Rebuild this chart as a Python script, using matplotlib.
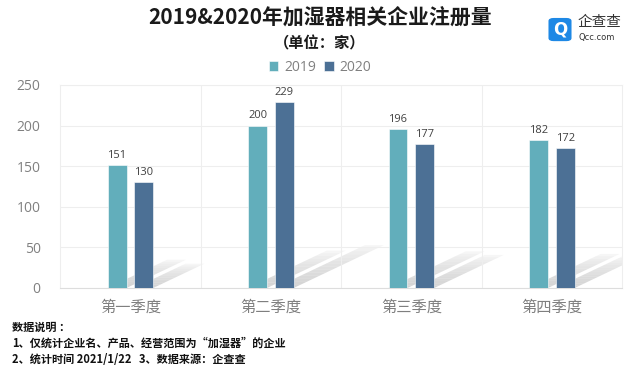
import matplotlib.pyplot as plt
import numpy as np
from matplotlib.patches import Polygon, FancyBboxPatch

plt.rcParams['font.family'] = ['Noto Sans CJK SC', 'DejaVu Sans']

quarters = ['第一季度', '第二季度', '第三季度', '第四季度']
years = ['2019', '2020']
v2019 = [151, 200, 196, 182]
v2020 = [130, 229, 177, 172]
colors = ['#62aebb', '#4c7095']

fig = plt.figure(figsize=(6.4, 3.74), dpi=100)
ax = fig.add_axes([0.094, 0.23, 0.878, 0.543])

x = np.arange(len(quarters))
w = 0.135
off = 0.095

for vals, dx, c, lab in [(v2019, -off, colors[0], years[0]), (v2020, off, colors[1], years[1])]:
    # faint cast shadows behind bars
    for xi, v in zip(x + dx, vals):
        sx = v * 0.0028
        sy = v * 0.23
        n = 14
        for k in range(n):
            t0, t1 = k / n, (k + 1) / n
            p = Polygon([(xi - w / 2 + sx * t0, sy * t0), (xi + w / 2 + sx * t0, sy * t0),
                         (xi + w / 2 + sx * t1, sy * t1), (xi - w / 2 + sx * t1, sy * t1)],
                        closed=True, facecolor='#bcbcbc', edgecolor='none',
                        alpha=0.65 * (1 - t0) ** 0.6, zorder=1)
            ax.add_patch(p)
    bars = ax.bar(x + dx, vals, width=w, color=c, label=lab, zorder=3,
                  edgecolor='white', linewidth=0.4)
    for b, v in zip(bars, vals):
        ax.text(b.get_x() + b.get_width() / 2, v + 5, str(v), ha='center', va='bottom',
                fontsize=8, color='#404040', family=['Open Sans', 'DejaVu Sans'])

ax.set_xlim(-0.5, 3.5)
ax.set_ylim(0, 250)
ax.set_yticks([0, 50, 100, 150, 200, 250])
ax.set_xticks(x)
ax.set_xticklabels(quarters, fontsize=11, color='#7f7f7f')
ax.tick_params(axis='y', labelsize=10, colors='#808080', length=0, pad=14)
ax.tick_params(axis='x', length=0, pad=8)
for lbl in ax.get_yticklabels():
    lbl.set_family(['Open Sans', 'DejaVu Sans'])
ax.yaxis.grid(True, color='#eeeeee', linewidth=0.8, zorder=0)
ax.set_xticks([0.5, 1.5, 2.5], minor=True)
ax.xaxis.grid(True, which='minor', color='#eeeeee', linewidth=0.8, zorder=0)
ax.tick_params(axis='x', which='minor', length=0)
for s in ax.spines.values():
    s.set_color('#eeeeee')
    s.set_linewidth(0.8)
ax.spines['bottom'].set_color('#dddddd')

fig.text(0.5, 0.952, '2019&2020年加湿器相关企业注册量', ha='center', va='center',
         fontsize=15, fontweight='bold', color='#1a1a1a')
fig.text(0.5, 0.885, '（单位：家）', ha='center', va='center',
         fontsize=11, fontweight='bold', color='#1a1a1a')

leg = fig.legend(loc='center', bbox_to_anchor=(0.5, 0.82), ncol=2, frameon=False,
                 fontsize=10, handlelength=0.7, handleheight=0.7, handletextpad=0.4,
                 columnspacing=0.6)
for t in leg.get_texts():
    t.set_color('#808080')
    t.set_family(['Open Sans', 'DejaVu Sans'])

# logo
logo = FancyBboxPatch((0.857, 0.89), 0.036, 0.062, boxstyle='round,pad=0,rounding_size=0.008',
                      transform=fig.transFigure, facecolor='#1e88e5', edgecolor='none')
fig.patches.append(logo)
fig.text(0.875, 0.921, 'Q', ha='center', va='center', fontsize=12, fontweight='bold',
         color='white', family=['DejaVu Sans'])
fig.text(0.903, 0.94, '企查查', ha='left', va='center', fontsize=10.5, color='#333333')
fig.text(0.904, 0.9, 'Qcc.com', ha='left', va='center', fontsize=6, color='#333333',
         family=['DejaVu Sans'])

notes = ['数据说明 ：',
         '1、仅统计企业名、产品、经营范围为“加湿器”的企业',
         '2、统计时间 2021/1/22   3、数据来源：企查查']
for i, line in enumerate(notes):
    fig.text(0.019, 0.125 - i * 0.043, line, ha='left', va='center', fontsize=8,
             fontweight='bold', color='#111111')

fig.savefig('out.png', dpi=100)
